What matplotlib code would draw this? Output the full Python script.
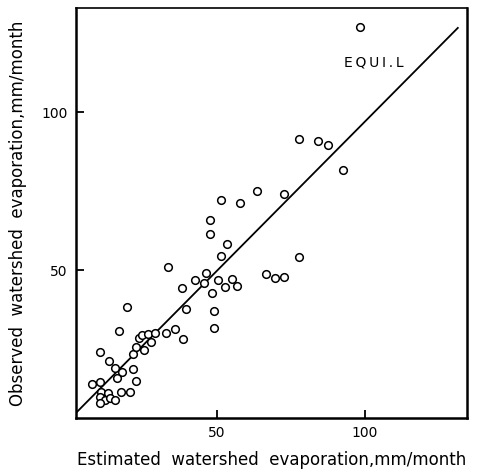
import matplotlib
matplotlib.use("Agg")
import matplotlib.pyplot as plt

# estimated vs observed watershed evaporation (mm/month)
est = [7.7, 10.5, 10.5, 11.0, 13.1, 10.6, 12.3, 10.5, 13.9, 15.5,
       13.6, 15.7, 17.9, 16.4, 21.7, 22.6, 17.6, 20.8, 19.5, 17.0,
       21.6, 22.6, 25.3, 23.8, 24.8, 26.7, 27.9, 29.2, 32.8, 35.7,
       38.6, 33.5, 38.3, 39.5, 42.7, 46.2, 45.7, 48.4, 48.9, 49.1,
       50.5, 51.5, 51.4, 47.8, 47.6, 53.3, 52.6, 55.0, 56.7, 57.8,
       63.4, 66.5, 69.7, 72.6, 72.6, 77.7, 77.7, 84.0, 87.4, 92.7,
       98.3]
obs = [14.1, 24.1, 14.7, 11.5, 11.2, 9.9, 8.9, 8.0, 9.4, 8.9,
       21.2, 18.9, 17.7, 15.7, 18.7, 14.9, 11.4, 11.4, 38.3, 30.8,
       23.4, 25.8, 24.7, 28.4, 29.3, 29.7, 27.3, 30.2, 30.1, 31.2,
       28.3, 50.9, 44.2, 37.6, 46.7, 49.2, 45.8, 42.8, 37.1, 31.6,
       46.8, 54.3, 72.3, 65.8, 61.3, 58.4, 44.5, 47.1, 44.9, 71.3,
       75.0, 48.9, 47.5, 47.9, 74.2, 54.1, 91.5, 90.8, 89.6, 81.6,
       126.9]

# equality line as drawn
line_x = [2.7, 131.4]
line_y = [5.1, 126.6]

xticks = [50, 100]
yticks = [50, 100]

plt.rcParams['font.family'] = ['DejaVu Sans']

fig = plt.figure(figsize=(4.81, 4.72), dpi=100)
ax = fig.add_axes([76 / 481, 54 / 472, 391 / 481, 410 / 472])

ax.plot(line_x, line_y, color='black', linewidth=1.3)
ax.plot(est, obs, linestyle='none', marker='o', markersize=5.5,
        markerfacecolor='white', markeredgecolor='black', markeredgewidth=1.1)

# label for the equality line, slightly letter-spaced
ax.text(103, 115.8, 'E\u2009Q\u2009U\u2009I\u2009.\u2009L', fontsize=10,
        ha='center', va='center')

ax.set_xlim(2.4, 134.5)
ax.set_ylim(3.2, 132.9)
ax.set_xticks(xticks)
ax.set_yticks(yticks)
ax.tick_params(direction='in', length=6, width=1.3, labelsize=10, pad=6)

for s in ax.spines.values():
    s.set_linewidth(1.8)
ax.spines['top'].set_linewidth(1.2)

ax.set_xlabel('Estimated  watershed  evaporation,mm/month', fontsize=12, labelpad=8)
ax.set_ylabel('Observed  watershed  evaporation,mm/month', fontsize=12, labelpad=10)

fig.savefig('out.png', dpi=100)
